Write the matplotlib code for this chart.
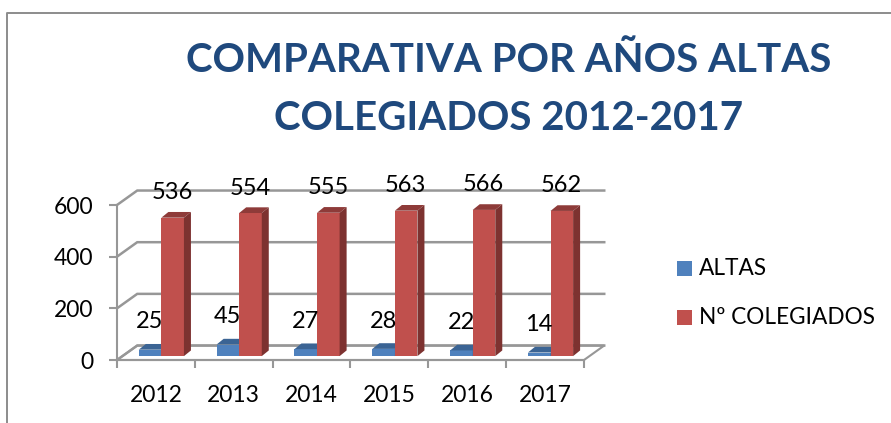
import numpy as np
import matplotlib
matplotlib.use('Agg')
import matplotlib.pyplot as plt
from matplotlib.patches import Polygon, Rectangle

plt.rcParams['font.family'] = ['Lato', 'DejaVu Sans']

years = ['2012', '2013', '2014', '2015', '2016', '2017']
altas = [25, 45, 27, 28, 22, 14]
colegiados = [536, 554, 555, 563, 566, 562]
y_ticks = [0, 200, 400, 600]

W, H = 891, 423
fig = plt.figure(figsize=(W / 100, H / 100), dpi=100)

# axes placed so the front floor edge lines up with the reference
ax = fig.add_axes([117 / W, (H - 360) / H, (584 - 117) / W, 155 / H])
ax.set_xlim(0, 6)
ax.set_ylim(0, 600)
ax.patch.set_visible(False)
for s in ['top', 'right']:
    ax.spines[s].set_visible(False)

gray = '#979797'
for s in ['left', 'bottom']:
    ax.spines[s].set_color(gray)
    ax.spines[s].set_linewidth(1.5)

# fake 3D depth, in data units
wall_dx, wall_dy = 0.26, 56
bar_dx, bar_dy = 0.09, 22
base = 15
bar_w = 0.29

ax.add_patch(Polygon([(0, 0), (6, 0), (6 + wall_dx, wall_dy), (wall_dx, wall_dy)],
                     closed=True, fc='white', ec=gray, lw=1.5, clip_on=False, zorder=1))
for t in y_ticks:
    ax.plot([0, wall_dx, 6 + wall_dx], [t, t + wall_dy, t + wall_dy], color=gray, lw=1.8,
            clip_on=False, zorder=1, solid_joinstyle='miter')

ax.set_xticks(range(7))
ax.set_xticklabels([])
ax.set_xticks(np.arange(6) + 0.5, labels=years, minor=True)
ax.tick_params(axis='x', which='major', length=6, width=1.5, color=gray)
ax.tick_params(axis='x', which='minor', length=0, pad=18, labelsize=16.5)
ax.set_yticks(y_ticks)
ax.tick_params(axis='y', length=6, width=1.5, color=gray, pad=11, labelsize=16.5)


def bar3d(xl, v, front, top, side):
    ax.bar(xl, v, bar_w, bottom=base, align='edge', color=front, zorder=3, clip_on=False)
    yt = base + v
    xr = xl + bar_w
    ax.add_patch(Polygon([(xl, yt), (xr, yt), (xr + bar_dx, yt + bar_dy), (xl + bar_dx, yt + bar_dy)],
                         closed=True, fc=top, ec='none', clip_on=False, zorder=3))
    ax.add_patch(Polygon([(xr, base), (xr + bar_dx, base + bar_dy), (xr + bar_dx, yt + bar_dy), (xr, yt)],
                         closed=True, fc=side, ec='none', clip_on=False, zorder=3))


for i in range(6):
    x_blue = i + 0.28
    x_red = x_blue + bar_w
    bar3d(x_blue, altas[i], '#4F81BD', '#3B6494', '#3B6494')
    bar3d(x_red, colegiados[i], '#C0504D', '#8E3B39', '#7D3230')
    ax.annotate(str(altas[i]), (x_blue + 0.14, base + altas[i]), xytext=(0, 20),
                textcoords='offset points', ha='center', va='center', fontsize=17, zorder=5)
    ax.annotate(str(colegiados[i]), (x_red + 0.14, base + colegiados[i]), xytext=(0, 18),
                textcoords='offset points', ha='center', va='center', fontsize=17, zorder=5)

# outer chart frame
fig.add_artist(plt.Line2D([6.5 / W, 6.5 / W, 1], [0, (H - 13.5) / H, (H - 13.5) / H],
                          color='#8c8c8c', lw=1.4))

fig.text(509 / W, (H - 60) / H, 'COMPARATIVA POR AÑOS ALTAS', ha='center', va='center',
         fontsize=29, fontweight='bold', color='#1F497D')
fig.text(509 / W, (H - 119) / H, 'COLEGIADOS 2012-2017', ha='center', va='center',
         fontsize=29, fontweight='bold', color='#1F497D')

# legend
legend_items = [('ALTAS', '#4F81BD', 268), ('Nº COLEGIADOS', '#C0504D', 317)]
for name, col, yp in legend_items:
    fig.add_artist(Rectangle((677 / W, (H - yp - 7.5) / H), 15 / W, 15 / H, fc=col, ec='none',
                             transform=fig.transFigure))
    fig.text(699 / W, (H - yp) / H, name, ha='left', va='center', fontsize=16.3)

fig.savefig('out.png', dpi=100)
